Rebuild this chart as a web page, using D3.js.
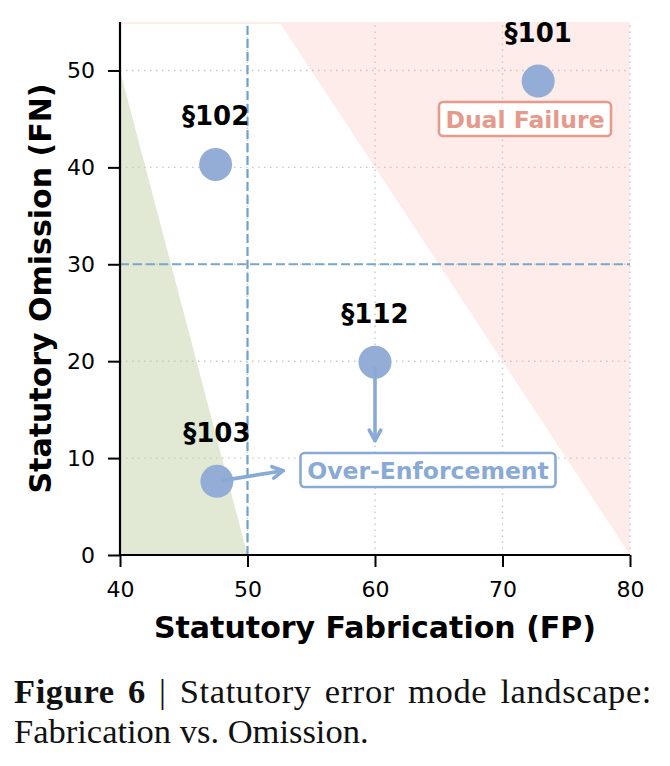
<!DOCTYPE html>
<html>
<head>
<meta charset="utf-8">
<script src="https://cdn.jsdelivr.net/npm/d3@7"></script>
<style>
  body { margin: 0; background: #fff; }
  svg { display: block; }
</style>
</head>
<body>
<div id="chart"></div>
<script>
// Statutory error mode landscape — FP vs FN scatter
const sections  = ["§101", "§102", "§112", "§103"];
const fpValues  = [72.8, 47.5, 60.0, 47.6];
const fnValues  = [48.9, 40.3, 19.9, 7.6];
const xTicks    = [40, 50, 60, 70, 80];
const yTicks    = [0, 10, 20, 30, 40, 50];
// shaded zones (FP, FN corners)
const greenZone = [[40, 0], [40, 50], [50, 0]];
const redZone   = [[52.5, 55], [80, 55], [80, 0]];
// arrows: [fromFP, fromFN, toFP, toFN]
const arrows    = [[60, 19.3, 60, 11.8], [48.1, 7.7, 52.8, 8.7]];
const thresholdFP = 50, thresholdFN = 30;

const W = 670, H = 766;
const svg = d3.select("#chart").append("svg").attr("width", W).attr("height", H);

const x = d3.scaleLinear().domain([40, 80]).range([120, 630]);
const y = d3.scaleLinear().domain([0, 55]).range([555, 22]);

const dotColor = "#93add6";
const font = "DejaVu Sans, sans-serif";

// ── Zones ────────────────────────────────────────────────────────────────
const line = d3.line().x(d => x(d[0])).y(d => y(d[1]));
svg.append("path").attr("d", line(greenZone) + "Z").attr("fill", "#e1e9d5");
svg.append("path").attr("d", line(redZone) + "Z").attr("fill", "#fdece9");
svg.append("line").attr("x1", x(40)).attr("x2", x(80)).attr("y1", y(55) + 1).attr("y2", y(55) + 1)
  .attr("stroke", "#fdece9").attr("stroke-width", 2);

// ── Grid ─────────────────────────────────────────────────────────────────
const grid = svg.append("g").attr("stroke", "#c8c8c8").attr("stroke-width", 1.4).attr("stroke-dasharray", "1.5,4.5");
xTicks.forEach(t => grid.append("line").attr("x1", x(t)).attr("x2", x(t)).attr("y1", y(0)).attr("y2", y(55)));
yTicks.forEach(t => grid.append("line").attr("x1", x(40)).attr("x2", x(80)).attr("y1", y(t)).attr("y2", y(t)));

// ── Threshold lines ──────────────────────────────────────────────────────
svg.append("line").attr("x1", x(thresholdFP)).attr("x2", x(thresholdFP)).attr("y1", y(0)).attr("y2", y(55))
  .attr("stroke", "#6fa3cf").attr("stroke-width", 2.2).attr("stroke-dasharray", "9,4");
svg.append("line").attr("x1", x(40)).attr("x2", x(80)).attr("y1", y(thresholdFN)).attr("y2", y(thresholdFN))
  .attr("stroke", "#7ba7cc").attr("stroke-width", 2.2).attr("stroke-dasharray", "9,4");

// ── Points ───────────────────────────────────────────────────────────────
svg.append("g").selectAll("circle").data(sections).join("circle")
  .attr("cx", (d, i) => x(fpValues[i])).attr("cy", (d, i) => y(fnValues[i]))
  .attr("r", 16.5).attr("fill", dotColor);

svg.append("g").selectAll("text").data(sections).join("text")
  .attr("x", (d, i) => x(fpValues[i])).attr("y", (d, i) => y(fnValues[i]) - 39)
  .attr("text-anchor", "middle").attr("font-family", font).attr("font-weight", "bold")
  .attr("font-size", 26).attr("fill", "#000").text(d => d);

// ── Arrows ───────────────────────────────────────────────────────────────
const arrowG = svg.append("g").attr("stroke", "#8aaad6").attr("stroke-width", 3.6)
  .attr("fill", "none").attr("stroke-linecap", "round").attr("stroke-linejoin", "round");
arrows.forEach(a => {
  const x1 = x(a[0]), y1 = y(a[1]), x2 = x(a[2]), y2 = y(a[3]);
  const ang = Math.atan2(y2 - y1, x2 - x1), len = 12, spread = 0.5;
  arrowG.append("line").attr("x1", x1).attr("y1", y1).attr("x2", x2).attr("y2", y2);
  arrowG.append("path").attr("d",
    `M${x2 - len * Math.cos(ang - spread)},${y2 - len * Math.sin(ang - spread)}` +
    `L${x2},${y2}L${x2 - len * Math.cos(ang + spread)},${y2 - len * Math.sin(ang + spread)}`);
});

// ── Zone labels ──────────────────────────────────────────────────────────
function boxLabel(cx, cy, text, color, w, h) {
  svg.append("rect").attr("x", cx - w / 2).attr("y", cy - h / 2).attr("width", w).attr("height", h)
    .attr("rx", 4).attr("fill", "#fff").attr("stroke", color).attr("stroke-width", 2.6);
  svg.append("text").attr("x", cx).attr("y", cy + 8.5).attr("text-anchor", "middle")
    .attr("font-family", font).attr("font-weight", "bold").attr("font-size", 23.5)
    .attr("fill", color).text(text);
}
boxLabel(525, 119, "Dual Failure", "#e59a8c", 172, 34);
boxLabel(428, 470, "Over-Enforcement", "#8aaad6", 255, 34);

// ── Axes ─────────────────────────────────────────────────────────────────
const xAxis = svg.append("g").attr("transform", `translate(0,${y(0)})`)
  .call(d3.axisBottom(x).tickValues(xTicks).tickSize(12).tickPadding(14));
const yAxis = svg.append("g").attr("transform", `translate(${x(40)},0)`)
  .call(d3.axisLeft(y).tickValues(yTicks).tickSize(12).tickPadding(13));
[xAxis, yAxis].forEach(g => {
  g.select(".domain").attr("stroke", "#000").attr("stroke-width", 2.2);
  g.selectAll(".tick line").attr("stroke", "#000").attr("stroke-width", 2);
  g.selectAll(".tick text").attr("font-family", font).attr("font-size", 22).attr("fill", "#000");
});
xAxis.select(".domain").attr("d", `M${x(40)},0H${x(80)}`);
yAxis.select(".domain").attr("d", `M0,${y(0)}V${y(55)}`);

svg.append("text").attr("x", 375).attr("y", 638).attr("text-anchor", "middle")
  .attr("font-family", font).attr("font-weight", "bold").attr("font-size", 30)
  .text("Statutory Fabrication (FP)");
svg.append("text").attr("transform", `translate(51,${y(27.5)}) rotate(-90)`).attr("text-anchor", "middle")
  .attr("font-family", font).attr("font-weight", "bold").attr("font-size", 30)
  .text("Statutory Omission (FN)");

// ── Caption (first line justified like the source paragraph) ─────────────
const cap = svg.append("text").attr("font-family", "Liberation Serif, serif").attr("font-size", 34.5).attr("fill", "#111");
const l1 = cap.append("tspan").attr("x", 14).attr("y", 703).attr("letter-spacing", 0.6);
l1.append("tspan").attr("font-weight", "bold").text("Figure 6");
l1.append("tspan").text(" | Statutory error mode landscape:");
const l1w = l1.node().getComputedTextLength();
l1.attr("word-spacing", Math.max(0, (638 - l1w) / 6));
cap.append("tspan").attr("x", 14).attr("y", 743).text("Fabrication vs. Omission.");
</script>
</body>
</html>
